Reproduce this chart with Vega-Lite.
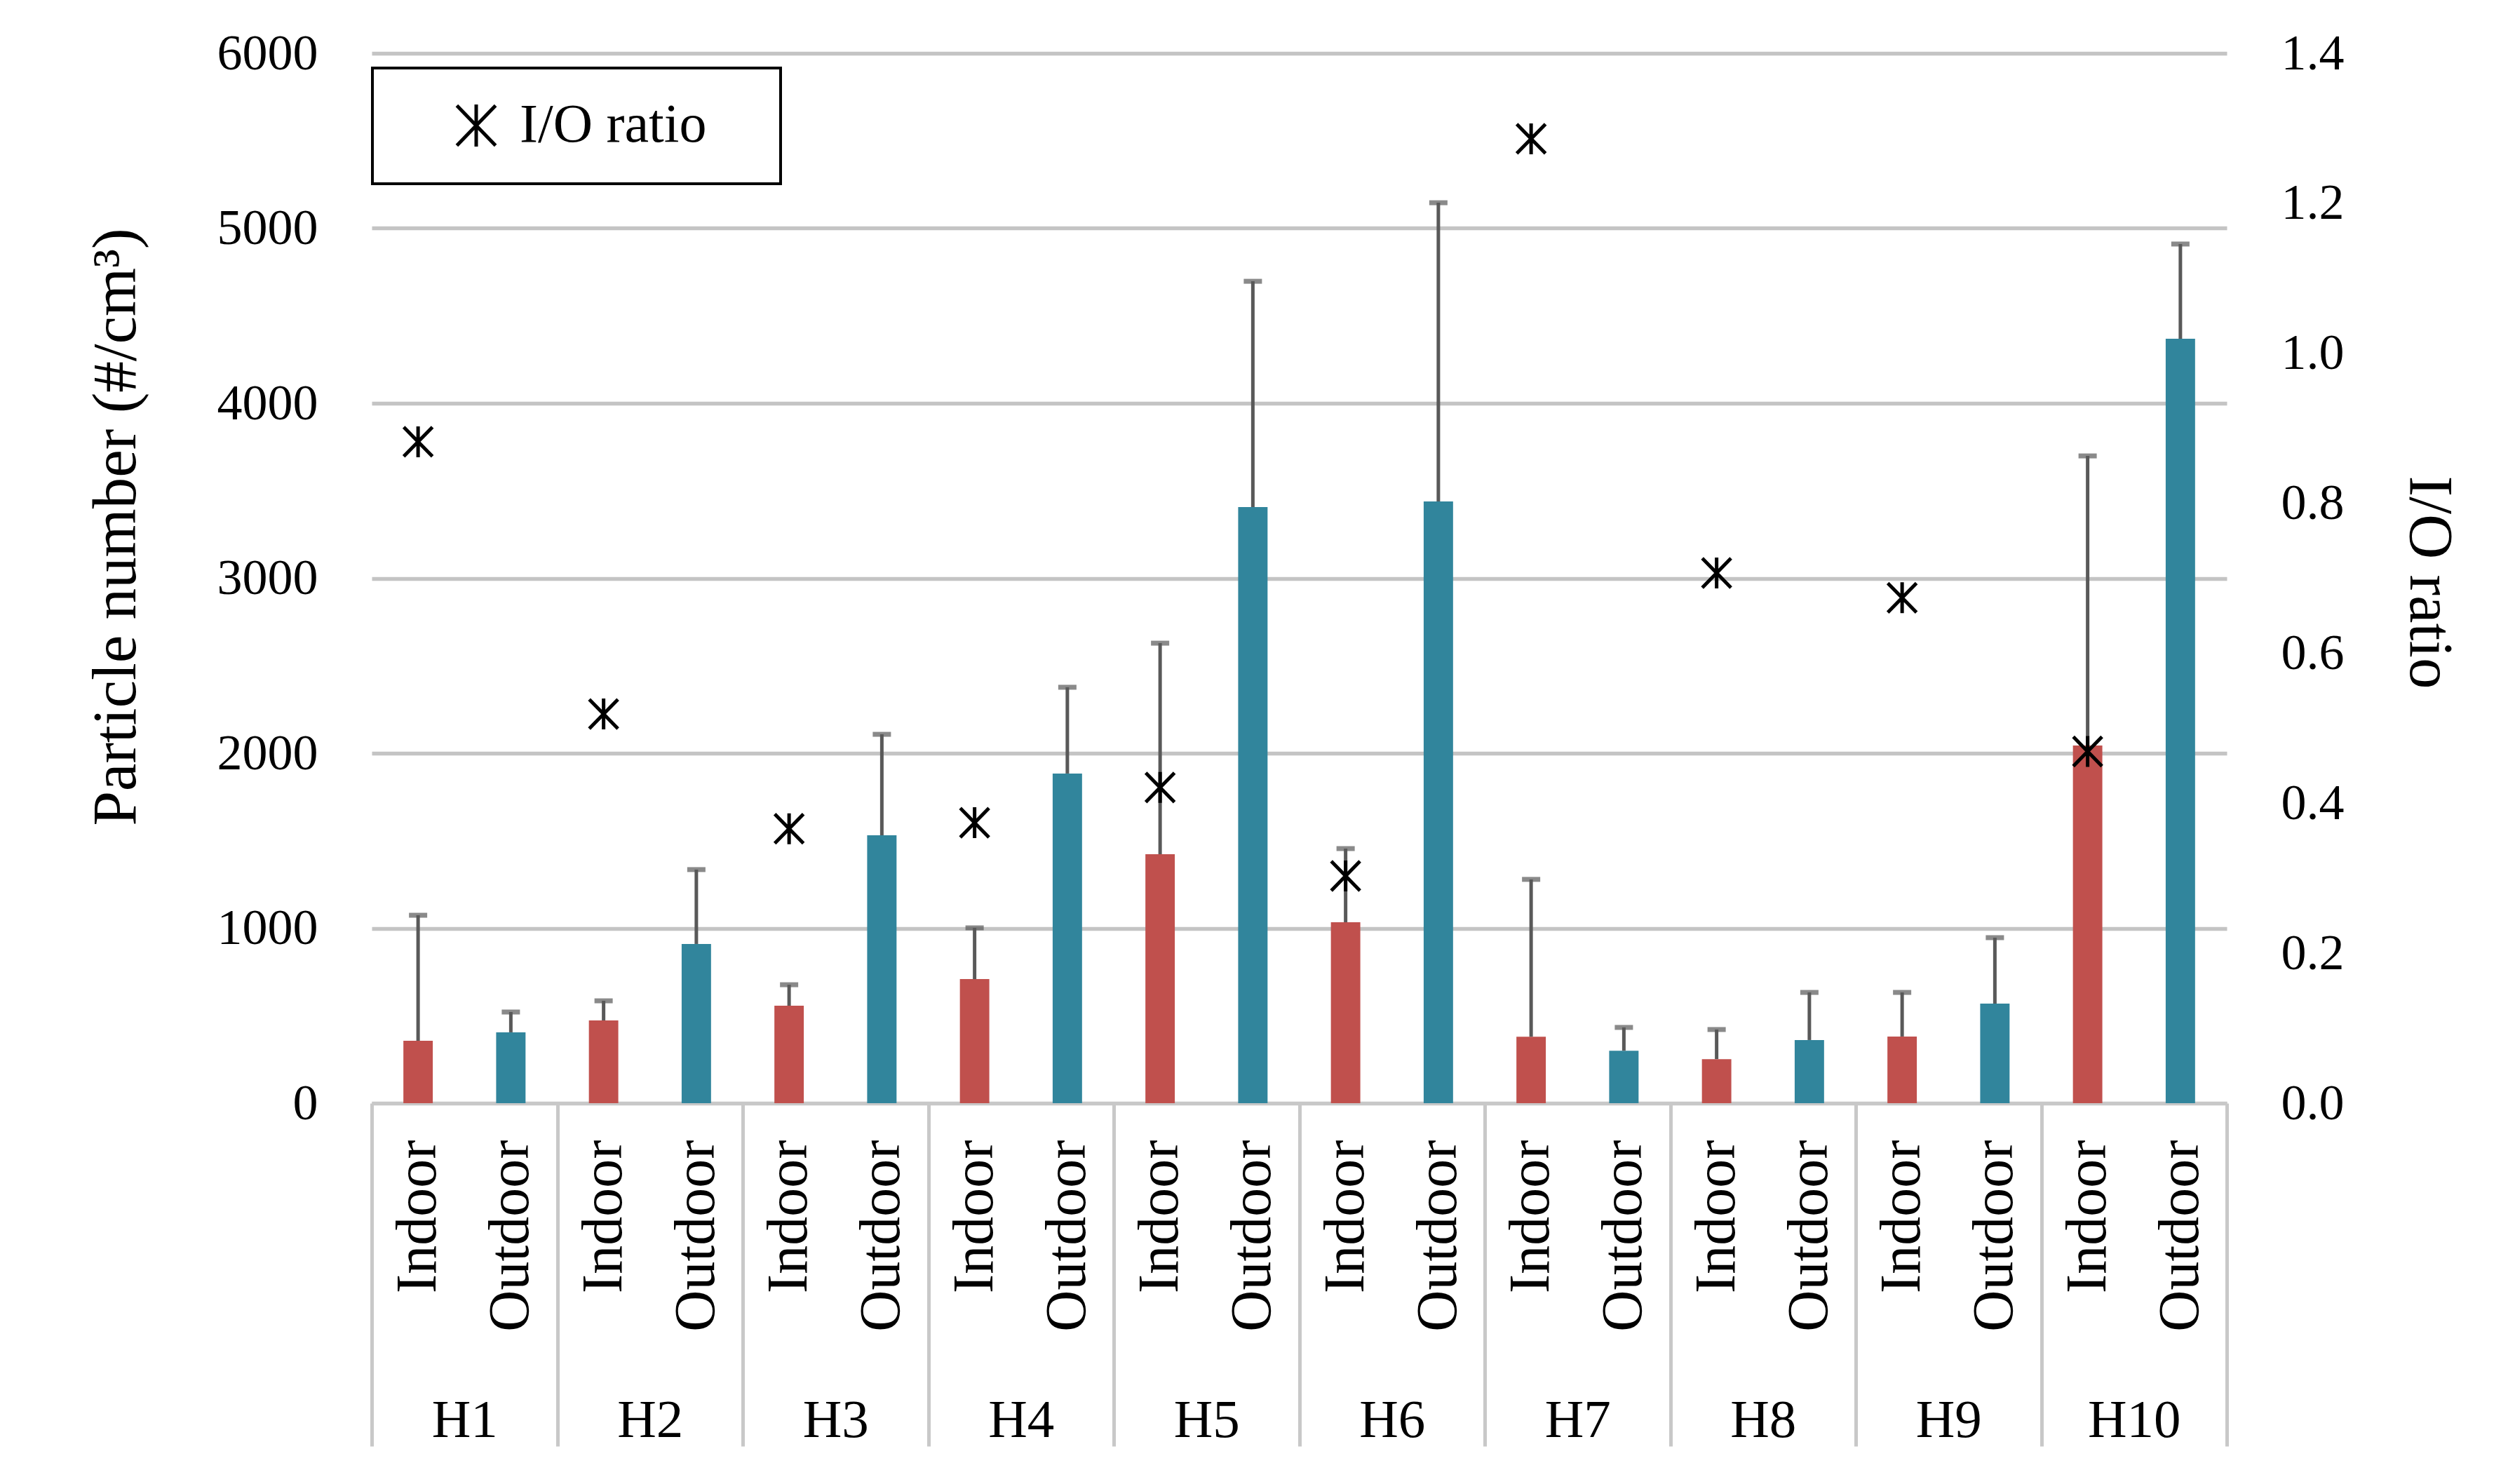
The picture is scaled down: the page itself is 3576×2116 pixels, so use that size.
{
  "$schema": "https://vega.github.io/schema/vega-lite/v6.json",
  "autosize": {"type": "none"},
  "width": 2645,
  "height": 1497,
  "padding": {"left": 530, "top": 76, "right": 401, "bottom": 543},
  "background": "white",
  "config": {"view": {"stroke": null}, "font": "Liberation Serif", "legend": {"strokeWidth": 4}},
  "datasets": {
    "bars": [
      {"house": "H1", "loc": "Indoor", "cat": "H1 Indoor", "value": 357, "upper": 1074},
      {"house": "H1", "loc": "Outdoor", "cat": "H1 Outdoor", "value": 405, "upper": 521},
      {"house": "H2", "loc": "Indoor", "cat": "H2 Indoor", "value": 473, "upper": 585},
      {"house": "H2", "loc": "Outdoor", "cat": "H2 Outdoor", "value": 910, "upper": 1335},
      {"house": "H3", "loc": "Indoor", "cat": "H3 Indoor", "value": 557, "upper": 677},
      {"house": "H3", "loc": "Outdoor", "cat": "H3 Outdoor", "value": 1531, "upper": 2108},
      {"house": "H4", "loc": "Indoor", "cat": "H4 Indoor", "value": 709, "upper": 1002},
      {"house": "H4", "loc": "Outdoor", "cat": "H4 Outdoor", "value": 1884, "upper": 2377},
      {"house": "H5", "loc": "Indoor", "cat": "H5 Indoor", "value": 1423, "upper": 2629},
      {"house": "H5", "loc": "Outdoor", "cat": "H5 Outdoor", "value": 3407, "upper": 4697},
      {"house": "H6", "loc": "Indoor", "cat": "H6 Indoor", "value": 1034, "upper": 1455},
      {"house": "H6", "loc": "Outdoor", "cat": "H6 Outdoor", "value": 3439, "upper": 5146},
      {"house": "H7", "loc": "Indoor", "cat": "H7 Indoor", "value": 380, "upper": 1279},
      {"house": "H7", "loc": "Outdoor", "cat": "H7 Outdoor", "value": 300, "upper": 433},
      {"house": "H8", "loc": "Indoor", "cat": "H8 Indoor", "value": 252, "upper": 421},
      {"house": "H8", "loc": "Outdoor", "cat": "H8 Outdoor", "value": 361, "upper": 633},
      {"house": "H9", "loc": "Indoor", "cat": "H9 Indoor", "value": 381, "upper": 633},
      {"house": "H9", "loc": "Outdoor", "cat": "H9 Outdoor", "value": 569, "upper": 946},
      {"house": "H10", "loc": "Indoor", "cat": "H10 Indoor", "value": 2044, "upper": 3699},
      {"house": "H10", "loc": "Outdoor", "cat": "H10 Outdoor", "value": 4369, "upper": 4910}
    ],
    "ratio": [
      {"house": "H1", "ratio": 0.882},
      {"house": "H2", "ratio": 0.519},
      {"house": "H3", "ratio": 0.366},
      {"house": "H4", "ratio": 0.374},
      {"house": "H5", "ratio": 0.421},
      {"house": "H6", "ratio": 0.303},
      {"house": "H7", "ratio": 1.286},
      {"house": "H8", "ratio": 0.707},
      {"house": "H9", "ratio": 0.674},
      {"house": "H10", "ratio": 0.469}
    ]
  },
  "layer": [
    {
      "data": {"name": "bars"},
      "encoding": {
        "x": {
          "field": "cat", "type": "nominal", "sort": null,
          "scale": {"paddingInner": 0, "paddingOuter": 0},
          "axis": {
            "orient": "bottom", "title": null, "domain": true, "domainColor": "#C8C8C8", "domainWidth": 5,
            "ticks": false, "grid": false, "labelAngle": 270, "labelAlign": "right", "labelBaseline": "middle",
            "labelPadding": 52, "labelFont": "Liberation Serif", "labelFontSize": 82, "labelColor": "#000000",
            "labelLimit": 0, "labelOverlap": false, "labelExpr": "split(datum.label, ' ')[1]"
          }
        }
      },
      "layer": [
        {
          "mark": {"type": "bar", "width": {"band": 0.317}},
          "encoding": {
            "y": {
              "field": "value", "type": "quantitative",
              "scale": {"domain": [0, 6000]},
              "axis": {
                "orient": "left", "domain": false, "ticks": false, "grid": true, "gridColor": "#C4C4C4", "gridWidth": 5.5,
                "values": [0, 1000, 2000, 3000, 4000, 5000, 6000], "format": "d",
                "labelFont": "Liberation Serif", "labelFontSize": 72, "labelColor": "#000000", "labelPadding": 77, "labelLimit": 0,
                "title": "Particle number (#/cm³)", "titleFont": "Liberation Serif", "titleFontSize": 89, "titleFontWeight": "normal",
                "titleColor": "#000000", "titleX": -365, "titleY": 675, "titleAngle": 270, "titleAlign": "center", "titleBaseline": "middle"
              }
            },
            "color": {
              "field": "loc", "type": "nominal",
              "scale": {"domain": ["Indoor", "Outdoor"], "range": ["#C0504D", "#31859C"]},
              "legend": null
            }
          }
        },
        {
          "mark": {"type": "rule", "color": "#595959", "strokeWidth": 5},
          "encoding": {
            "y": {"field": "value", "type": "quantitative"},
            "y2": {"field": "upper"}
          }
        },
        {
          "mark": {"type": "tick", "orient": "horizontal", "color": "#595959", "size": 26, "thickness": 7},
          "encoding": {
            "y": {"field": "upper", "type": "quantitative"}
          }
        }
      ]
    },
    {
      "data": {"name": "ratio"},
      "mark": {
        "type": "point",
        "shape": "M0,-1L0,1M-0.93,-0.95L0.93,0.95M-0.93,0.95L0.93,-0.95",
        "filled": false, "size": 1936, "strokeWidth": 5, "opacity": 1
      },
      "encoding": {
        "x": {
          "field": "house", "type": "nominal", "sort": null, "bandPosition": 0.25,
          "scale": {"paddingInner": 0, "paddingOuter": 0},
          "axis": {
            "orient": "bottom", "title": null, "domain": false, "grid": false,
            "ticks": true, "tickBand": "extent", "tickSize": 489, "tickColor": "#C8C8C8", "tickWidth": 5,
            "labelAngle": 0, "labelBaseline": "top", "labelAlign": "center", "labelPadding": -75,
            "labelFont": "Liberation Serif", "labelFontSize": 77, "labelColor": "#000000", "labelLimit": 0, "labelOverlap": false
          }
        },
        "y": {
          "field": "ratio", "type": "quantitative",
          "scale": {"domain": [0, 1.4]},
          "axis": {
            "orient": "right", "domain": false, "ticks": false, "grid": false,
            "values": [0, 0.2, 0.4, 0.6, 0.8, 1.0, 1.2, 1.4], "format": ".1f",
            "labelFont": "Liberation Serif", "labelFontSize": 72, "labelColor": "#000000", "labelPadding": 77, "labelLimit": 0,
            "title": "I/O ratio", "titleFont": "Liberation Serif", "titleFontSize": 89, "titleFontWeight": "normal",
            "titleColor": "#000000", "titleX": 288, "titleY": 754, "titleAngle": 90, "titleAlign": "center", "titleBaseline": "middle"
          }
        },
        "color": {
          "datum": "I/O ratio", "type": "nominal",
          "scale": {"range": ["#000000"]},
          "legend": {
            "orient": "none", "legendX": 1, "legendY": 21, "title": null, "padding": 43,
            "strokeColor": "#000000", "fillColor": "#FFFFFF",
            "symbolType": "M0,-1L0,1M-0.92,-0.95L0.92,0.95M-0.92,0.95L0.92,-0.95M12.7,0",
            "symbolSize": 3600, "symbolStrokeWidth": 5, "symbolStrokeColor": "#000000", "symbolFillColor": "transparent",
            "symbolOffset": 66, "labelOffset": 23,
            "labelFont": "Liberation Serif", "labelFontSize": 78, "labelColor": "#000000", "labelLimit": 0
          }
        }
      }
    }
  ],
  "resolve": {
    "scale": {"x": "independent", "y": "independent", "color": "independent"},
    "axis": {"x": "independent", "y": "independent"}
  }
}
